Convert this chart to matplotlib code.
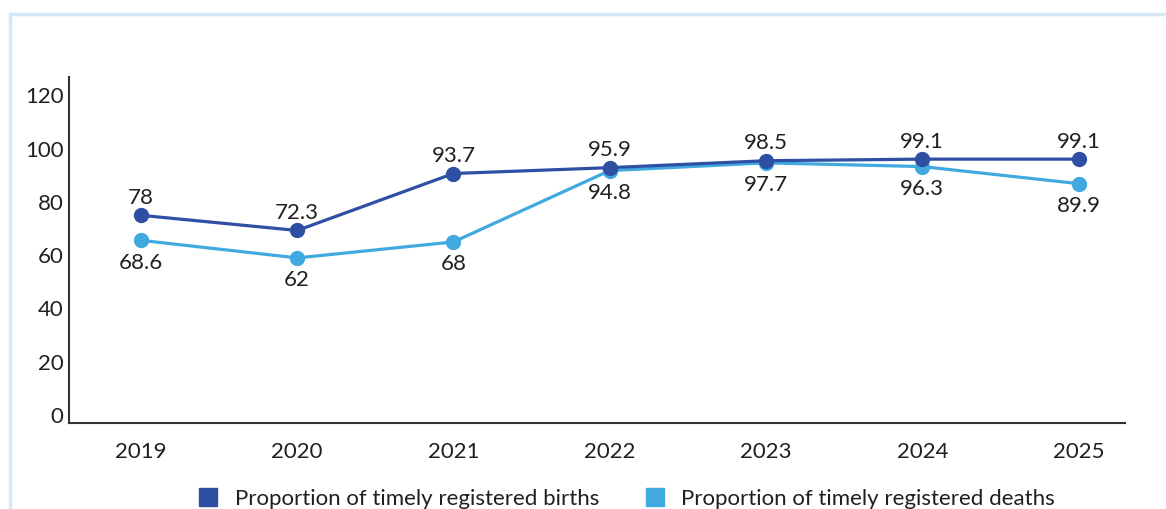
import matplotlib.pyplot as plt
from matplotlib.lines import Line2D
from matplotlib.patches import Rectangle

plt.rcParams['font.family'] = ['Lato', 'DejaVu Sans']

years = ['2019', '2020', '2021', '2022', '2023', '2024', '2025']
births = [78, 72.3, 93.7, 95.9, 98.5, 99.1, 99.1]
deaths = [68.6, 62, 68, 94.8, 97.7, 96.3, 89.9]
yticks = [0, 20, 40, 60, 80, 100, 120]

c_births = '#2e4fa3'
c_deaths = '#3fa9e0'
txt = '#231f20'

fig = plt.figure(figsize=(11.66, 5.09), dpi=100)
ax = fig.add_axes([0.0592, 0.169, 0.906, 0.68])

# light blue frame around the chart
fig.patches.append(Rectangle((0.009, -0.05), 1.1, 1.023, transform=fig.transFigure,
                             fill=False, edgecolor='#d6e8f6', linewidth=2.5))

x = list(range(len(years)))
ax.plot(x, births, color=c_births, lw=2.3, marker='o', ms=10, zorder=3)
ax.plot(x, deaths, color=c_deaths, lw=2.3, marker='o', ms=10, zorder=2)

for i in x:
    ax.annotate(f'{births[i]:g}', (i, births[i]), xytext=(0, 12.5), textcoords='offset points',
                ha='center', va='center', fontsize=16, color=txt)
    ax.annotate(f'{deaths[i]:g}', (i, deaths[i]), xytext=(0, -16), textcoords='offset points',
                ha='center', va='center', fontsize=16, color=txt)

ax.set_xlim(-0.46, 6.3)
ax.set_ylim(0, 130)
ax.set_xticks(x)
ax.set_xticklabels(years)
ax.set_yticks(yticks)
ax.tick_params(length=0, labelsize=16, labelcolor=txt)
ax.tick_params(axis='x', pad=14)
ax.tick_params(axis='y', pad=4)
for lab in ax.get_yticklabels():
    lab.set_va('baseline')
for s in ['top', 'right']:
    ax.spines[s].set_visible(False)
for s in ['left', 'bottom']:
    ax.spines[s].set_color('#333333')
    ax.spines[s].set_linewidth(1.5)

handles = [Line2D([], [], color=c_births, marker='s', ls='', ms=13),
           Line2D([], [], color=c_deaths, marker='s', ls='', ms=13)]
fig.legend(handles, ['Proportion of timely registered births', 'Proportion of timely registered deaths'],
           loc='center', bbox_to_anchor=(0.532, 0.02), ncol=2, frameon=False,
           fontsize=16, handletextpad=0.2, columnspacing=1.5, labelcolor=txt)

fig.savefig('out.png', dpi=100)
